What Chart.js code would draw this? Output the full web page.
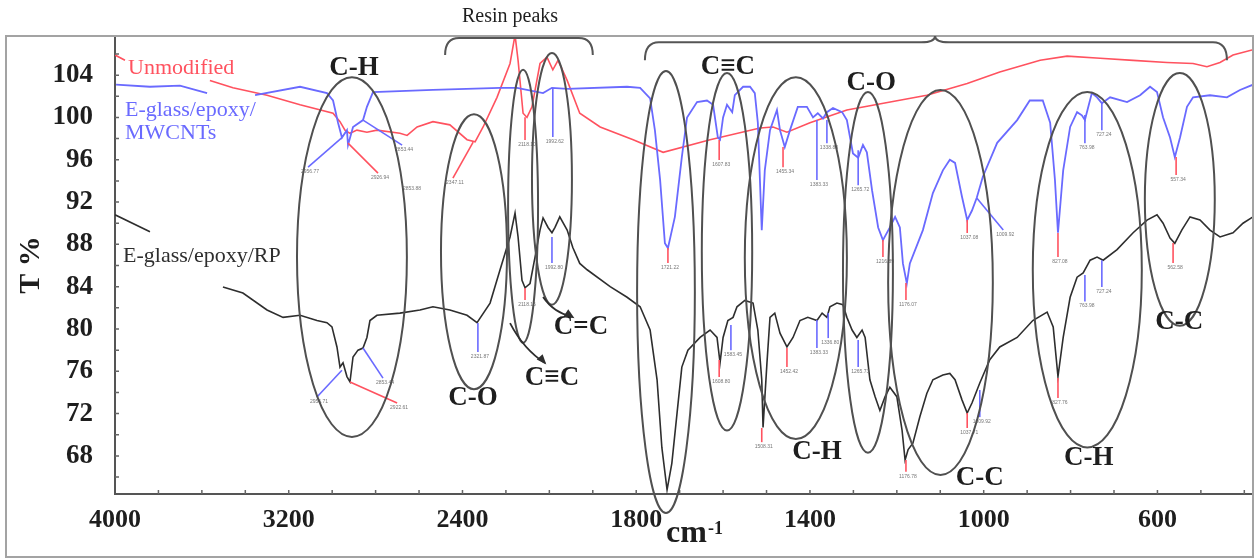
<!DOCTYPE html>
<html>
<head>
<meta charset="utf-8">
<script src="https://cdn.jsdelivr.net/npm/chart.js@4.4.1/dist/chart.umd.min.js"></script>
<style>
  html, body { margin: 0; padding: 0; background: #fff; }
  canvas { display: block; }
</style>
</head>
<body>
<canvas id="ftir" width="1254" height="560"></canvas>
<script>
// ---- spectra: wavenumber (cm-1) and transmittance (%) ----
// null marks the places where the original line is broken by its own label
const redWn = [4000, 3954, 3800, 3563, 3457, 3300, 3148, 2996, 2964, 2941, 2918, 2886, 2840, 2794, 2688,
  2655, 2609, 2536, 2458, 2379, 2342, 2305, 2241, 2181, 2158, 2144, 2121, 2103, 2080, 2043, 2011, 1992,
  1980, 1959, 1930, 1883, 1807, 1738, 1630, 1515, 1485, 1453, 1400, 1315, 1209, 1131, 1038, 963, 870,
  808, 732, 656, 578, 518, 486, 456, 426, 380];
const redT = [105.9, 105.4, null, 103.5, 102.8, 102.1, 101.2, 100.4, 99.6, 98.8, 98.5, 98.8, 98.6, 98.8, 98.5,
  98.3, 99.1, 99.6, 99.3, 97.9, 97.7, 99.1, 101.9, 105.1, 107.8, 105.4, 100.4, 100.0, 101.0, 105.1, 105.7, 104.5,
  105.4, 103.5, 100.4, 99.1, 97.9, 96.7, 97.9, 99.0, 99.1, 98.6, 99.5, 100.7, 101.5, 102.1, 103.2, 104.3, 105.4,
  105.8, 105.6, 105.4, 105.2, 105.1, 104.8, 105.2, 105.9, 106.4];

const blueWn = [3995, 3839, 3701, 3576, 3470, 3355, 3148, 3024, 2996, 2973, 2955, 2932, 2927, 2904, 2858,
  2840, 2812, 2536, 2227, 2149, 2029, 1994, 1959, 1821, 1791, 1768, 1757, 1745, 1734, 1727, 1711, 1695,
  1683, 1660, 1637, 1623, 1612, 1607, 1600, 1591, 1579, 1573, 1554, 1538, 1527, 1520, 1511, 1504, 1492,
  1476, 1469, 1458, 1446, 1428, 1407, 1393, 1382, 1370, 1361, 1347, 1326, 1315, 1301, 1289, 1278, 1269,
  1257, 1243, 1232, 1216, 1204, 1193, 1186, 1177, 1170, 1140, 1117, 1094, 1078, 1066, 1050, 1038, 1027,
  1016, 1002, 969, 923, 894, 864, 847, 836, 829, 817, 801, 785, 774, 767, 751, 739, 728, 709, 670, 640,
  617, 601, 587, 571, 560, 548, 532, 518, 479, 440, 410, 380];
const blueT = [103.1, 102.9, 103.0, 102.3, null, 102.1, 102.9, 102.3, 101.6, 99.5, 98.1, 98.8, 97.4, 99.1, 99.75,
  101.0, 102.4, 102.6, 102.8, 102.8, 102.3, 102.8, 102.7, 102.9, 102.8, 101.8, 98.8, 94.1, 88.1, 87.65, 90.6, 96.25,
  100.0, 101.45, 101.6, 101.2, 98.1, 97.9, 100.0, 101.2, 100.5, 102.1, 102.9, 102.9, 102.3, 99.5, 89.35, 95.0, 98.8,
  100.7, 98.8, 97.2, 98.8, 101.0, 101.0, 100.0, 100.4, 99.9, 100.5, 100.9, 100.5, 99.75, 96.6, 96.2, 97.4, 96.7,
  93.1, 89.6, 88.4, 89.6, 90.6, 89.6, 86.2, 84.3, 86.2, 89.35, 92.85, 95.0, 96.0, 95.7, 92.5, 90.3, 91.2,
  92.4, 94.4, 97.6, 99.75, 101.6, 101.6, 99.5, 94.1, 89.1, 95.0, 99.1, 100.5, 100.2, 99.75, 102.3, 101.9, 101.35, 101.9, 101.45, 102.1,
  102.9, 102.4, 100.0, 98.1, 96.25, 98.1, 101.0, 101.9, 102.1, 101.9, 102.6, 103.1];

const blackWn = [4000, 3839, 3700, 3503, 3411, 3300, 3226, 3148, 3070, 3024, 3001, 2978, 2964, 2950, 2932,
  2918, 2904, 2881, 2858, 2840, 2826, 2794, 2688, 2596, 2536, 2458, 2379, 2333, 2273, 2227, 2181, 2158,
  2144, 2126, 2112, 2089, 2066, 2043, 2029, 2006, 1994, 1987, 1976, 1959, 1946, 1930, 1913, 1860, 1821,
  1791, 1768, 1752, 1741, 1729, 1718, 1706, 1695, 1681, 1653, 1630, 1614, 1607, 1600, 1589, 1577, 1568,
  1550, 1531, 1520, 1511, 1508, 1499, 1492, 1481, 1469, 1453, 1439, 1423, 1405, 1384, 1372, 1361, 1354,
  1338, 1324, 1315, 1303, 1292, 1280, 1273, 1262, 1250, 1239, 1227, 1216, 1200, 1188, 1181, 1174, 1163,
  1147, 1131, 1117, 1094, 1078, 1066, 1050, 1038, 1027, 1009, 986, 963, 923, 887, 854, 840, 829, 817,
  801, 785, 771, 755, 739, 725, 693, 656, 624, 601, 587, 571, 560, 544, 525, 502, 479, 456, 426, 403, 380];
const blackT = [90.8, 89.2, null, 83.96, 83.4, 81.8, 81.1, 81.3, 80.8, 80.6, 80.2, 78.3, 76.4, 76.8, 75.5,
  75.0, 77.35, 78.0, 78.2, 79.2, 80.8, 81.3, 81.5, 81.8, 82.1, 81.8, 81.3, 80.6, 82.45, 85.6, 88.7, 90.96,
  88.7, 84.6, 83.9, 84.3, 86.8, 89.35, 90.5, 89.6, 89.1, 89.6, 90.6, 89.35, 87.7, 86.2, 85.6, 84.0, 83.0,
  82.1, 79.9, 75.2, 68.8, 64.8, 67.3, 72.05, 76.4, 78.0, 79.2, 79.9, 79.2, 76.8, 79.2, 80.8, 81.1, 82.1,
  82.7, 82.45, 79.9, 75.2, 70.7, 76.8, 81.1, 81.5, 79.6, 78.3, 79.2, 80.8, 81.1, 80.8, 81.5, 81.1, 82.1,
  82.45, 82.3, 81.1, 79.9, 79.2, 79.9, 79.2, 75.2, 73.6, 72.3, 73.6, 74.5, 73.6, 70.45, 67.6, 68.6, 69.2,
  71.7, 73.9, 75.2, 75.65, 75.8, 75.2, 73.3, 72.05, 73.0, 74.9, 77.1, 78.3, 79.2, 80.8, 81.6, 80.2, 75.5, 79.2,
  83.0, 84.9, 85.3, 86.5, 86.8, 86.5, 87.5, 89.1, 90.3, 90.8, 90.0, 88.6, 88.1, 89.35, 90.6, 90.3, 89.35, 88.7, 89.1, 90.0, 90.6];

const seriesNames = ['Unmodified', 'E-glass/epoxy/MWCNTs', 'E-glass/epoxy/RP'];

// axis ticks (the wavenumber axis is compressed two-to-one above 2000 cm-1)
const xTickValues = [4000, 3800, 3600, 3400, 3200, 3000, 2800, 2600, 2400, 2200, 2000, 1900, 1800, 1700,
  1600, 1500, 1400, 1300, 1200, 1100, 1000, 900, 800, 700, 600, 500, 400];
const xTickLabels = [4000, 3200, 2400, 1800, 1400, 1000, 600];
const yTickLabels = [68, 72, 76, 80, 84, 88, 92, 96, 100, 104];

// peak markers: [wn from, T from, wn to, T to, series colour, printed value]
const peakMarks = [
  [2955, 98.1, 3111, 95.3, 'blue', '2956.77'],
  [2927, 97.57, 2789, 94.74, 'red', '2926.94'],
  [2858, 99.75, 2678, 97.38, 'blue', '2853.44'],
  [2642, 93.7, 2642, 93.7, null, '2853.88'],
  [2351, 97.67, 2444, 94.27, 'red', '2347.11'],
  [2112, 100.03, 2112, 97.86, 'red', '2118.10'],
  [1992, 102.77, 1992, 98.14, 'blue', '1992.62'],
  [2955, 76.1, 3070, 73.57, 'blue', '2956.71'],
  [2918, 74.98, 2701, 73.0, 'red', '2922.61'],
  [2858, 78.2, 2766, 75.36, 'blue', '2853.44'],
  [2329, 80.56, 2329, 77.82, 'blue', '2321.87'],
  [2112, 83.87, 2112, 82.73, 'red', '2118.16'],
  [1994, 88.69, 1994, 86.23, 'blue', '1992.80'],
  [1727, 87.65, 1727, 86.23, 'red', '1721.22'],
  [1609, 97.86, 1609, 95.97, 'red', '1607.83'],
  [1462, 97.2, 1462, 95.3, 'red', '1455.34'],
  [1384, 99.75, 1384, 94.08, 'blue', '1383.33'],
  [1361, 99.75, 1361, 97.57, 'blue', '1338.88'],
  [1289, 96.91, 1289, 93.6, 'blue', '1265.72'],
  [1232, 88.41, 1232, 86.8, 'red', '1216.89'],
  [1179, 84.34, 1179, 82.73, 'red', '1176.07'],
  [1038, 90.3, 1038, 89.07, 'red', '1037.08'],
  [1016, 92.38, 955, 89.35, 'blue', '1009.92'],
  [829, 89.07, 829, 86.8, 'red', '827.08'],
  [767, 100.22, 767, 97.57, 'blue', '763.98'],
  [728, 101.45, 728, 98.8, 'blue', '727.24'],
  [557, 96.25, 557, 94.55, 'red', '557.34'],
  [1609, 77.06, 1609, 75.46, 'red', '1608.80'],
  [1582, 80.37, 1582, 78.0, 'blue', '1583.45'],
  [1511, 70.64, 1511, 69.3, 'red', '1508.31'],
  [1453, 78.2, 1453, 76.4, 'red', '1452.42'],
  [1384, 80.84, 1384, 78.2, 'blue', '1383.33'],
  [1358, 81.5, 1358, 79.14, 'blue', '1336.80'],
  [1289, 78.95, 1289, 76.4, 'blue', '1265.73'],
  [1179, 67.61, 1179, 66.5, 'red', '1176.78'],
  [1038, 72.05, 1038, 70.64, 'red', '1037.71'],
  [1009, 74.23, 1009, 71.67, 'blue', '1009.92'],
  [829, 75.36, 829, 73.47, 'red', '827.76'],
  [767, 85.1, 767, 82.6, 'blue', '763.98'],
  [728, 86.5, 728, 83.96, 'blue', '727.24'],
  [564, 88.12, 564, 86.23, 'red', '562.58']
];

// band ovals: [wn left, wn right, T top, T bottom]
const bandOvals = [
  [3162, 2656, 103.8, 69.8],
  [2499, 2195, 100.3, 74.3],
  [2190, 2052, 104.5, 78.7],
  [2080, 1948, 106.1, 82.3],
  [1798, 1665, 104.4, 62.6],
  [1649, 1533, 104.2, 70.4],
  [1550, 1315, 103.8, 69.6],
  [1324, 1209, 102.4, 68.3],
  [1220, 979, 102.6, 66.2],
  [887, 636, 102.4, 68.8],
  [629, 468, 104.2, 80.3]
];

// band names with their place in data units
const bandNames = ['C-H', 'C\u2261C', 'C-O', 'C-O', 'C\u2261C', 'C=C', 'C-H', 'C-C', 'C-H', 'C-C'];
const bandNameAt = [[2900, 104.66], [1589, 104.76], [1259, 103.25], [2352, 73.47], [1994, 75.36],
  [1927, 80.18], [1384, 68.37], [1009, 65.9], [758, 67.8], [550, 80.65]];

// arrows from the resin ovals to their names: [wn from, T from, wn to, T to]
const bandArrows = [[2181, 80.56, 2020, 76.78], [2029, 83.02, 1946, 81.13]];

// braces over the top: [wn left, wn right, wn tip, T ends, T flat, T tip]
const braces = [[2480, 1900, 2158, 105.9, 107.5, 107.5], [1780, 440, 1112, 105.4, 107.1, 107.7]];
const braceTitle = ['Resin peaks', 2181, 109.5];

// series names written inside the plot
const seriesTags = [['Unmodified', 3940, 104.66, 0], ['E-glass/epoxy/', 3954, 100.69, 1],
  ['MWCNTs', 3954, 98.52, 1], ['E-glass/epoxy/RP', 3963, 86.9, 2]];

const COLORS = { red: 'rgb(255,82,95)', blue: 'rgb(106,106,255)', black: '#2e2e2e', oval: '#505050', text: '#1e1e1e' };
const seriesColors = [COLORS.red, COLORS.blue, COLORS.black];
const SERIF = '"Liberation Serif", "Times New Roman", serif';

// ---- wavenumber scale with the usual break at 2000 cm-1 ----
const X_HIGH = 4000, X_BREAK = 2000, X_LOW = 380;
const LinearScale = Chart.LinearScale || Chart.registry.getScale('linear');

class FtirScale extends LinearScale {
  buildTicks() {
    return xTickValues.map(value => ({ value }));
  }
  units(v) {
    return v >= X_BREAK ? (X_HIGH - v) / 2 : (X_HIGH - X_BREAK) / 2 + (X_BREAK - v);
  }
  getPixelForValue(v) {
    if (v === null || v === undefined) return NaN;
    return this.left + this.width * this.units(v) / this.units(X_LOW);
  }
  getValueForPixel(p) {
    const u = (p - this.left) / this.width * this.units(X_LOW);
    const half = (X_HIGH - X_BREAK) / 2;
    return u <= half ? X_HIGH - 2 * u : X_BREAK - (u - half);
  }
}
FtirScale.id = 'ftir';
FtirScale.defaults = {};
Chart.register(FtirScale);

const toPoints = (wn, t) => wn.map((w, i) => ({ x: w, y: t[i] }));

// draws the frame, ovals, braces, peak markers and the hand-set labels
const annotations = {
  id: 'annotations',
  afterDraw(chart) {
    const { ctx, chartArea: area, scales: { x, y } } = chart;
    const px = v => x.getPixelForValue(v);
    const py = v => y.getPixelForValue(v);
    ctx.save();

    // outer frame
    ctx.strokeStyle = '#a3a3a3';
    ctx.lineWidth = 2;
    ctx.strokeRect(6, area.top, area.right - 6, chart.height - 3 - area.top);

    // inner tick marks
    ctx.strokeStyle = '#666';
    ctx.lineWidth = 1.5;
    ctx.beginPath();
    x.ticks.forEach(t => {
      const p = px(t.value);
      if (p > area.left + 2 && p < area.right - 2) { ctx.moveTo(p, area.bottom); ctx.lineTo(p, area.bottom - 4); }
    });
    y.ticks.forEach(t => {
      const p = py(t.value);
      ctx.moveTo(area.left, p); ctx.lineTo(area.left + 4, p);
    });
    ctx.stroke();

    // braces
    ctx.strokeStyle = '#555';
    ctx.lineWidth = 2;
    braces.forEach(([w1, w2, wt, tEnd, tFlat, tTip]) => {
      const x1 = px(w1), x2 = px(w2), xm = px(wt);
      const ye = py(tEnd), yf = py(tFlat), yt = py(tTip);
      const r = 14;
      ctx.beginPath();
      ctx.moveTo(x1, ye);
      ctx.quadraticCurveTo(x1, yf, x1 + r, yf);
      ctx.lineTo(xm - r, yf);
      ctx.quadraticCurveTo(xm, yf, xm, yt);
      ctx.quadraticCurveTo(xm, yf, xm + r, yf);
      ctx.lineTo(x2 - r, yf);
      ctx.quadraticCurveTo(x2, yf, x2, ye);
      ctx.stroke();
    });
    ctx.fillStyle = COLORS.text;
    ctx.font = '20px ' + SERIF;
    ctx.textAlign = 'center';
    ctx.textBaseline = 'middle';
    ctx.fillText(braceTitle[0], px(braceTitle[1]), py(braceTitle[2]));

    // peak markers
    ctx.lineWidth = 1.6;
    ctx.font = '5px "Liberation Sans", Arial, sans-serif';
    ctx.textAlign = 'center';
    ctx.textBaseline = 'top';
    peakMarks.forEach(([w1, t1, w2, t2, col, label]) => {
      const x1 = px(w1), y1 = py(t1), x2 = px(w2), y2 = py(t2);
      if (col) {
        ctx.strokeStyle = COLORS[col];
        ctx.beginPath();
        ctx.moveTo(x1, y1);
        ctx.lineTo(x2, y2);
        ctx.stroke();
      }
      ctx.fillStyle = '#777';
      ctx.fillText(label, x2 + 2, y2 + 2);
    });

    // band ovals
    ctx.strokeStyle = COLORS.oval;
    ctx.lineWidth = 2;
    bandOvals.forEach(([w1, w2, tTop, tBot]) => {
      const x1 = px(w1), x2 = px(w2), y1 = py(tTop), y2 = py(tBot);
      ctx.beginPath();
      ctx.ellipse((x1 + x2) / 2, (y1 + y2) / 2, Math.abs(x2 - x1) / 2, Math.abs(y2 - y1) / 2, 0, 0, Math.PI * 2);
      ctx.stroke();
    });

    // arrows
    ctx.strokeStyle = COLORS.black;
    ctx.fillStyle = COLORS.black;
    ctx.lineWidth = 1.8;
    bandArrows.forEach(([w1, t1, w2, t2]) => {
      const x1 = px(w1), y1 = py(t1), x2 = px(w2), y2 = py(t2);
      const a = Math.atan2(y2 - y1, x2 - x1);
      ctx.beginPath();
      ctx.moveTo(x1, y1);
      ctx.quadraticCurveTo((x1 + x2) / 2 - 4, (y1 + y2) / 2 + 6, x2, y2);
      ctx.stroke();
      ctx.beginPath();
      ctx.moveTo(x2 + 2 * Math.cos(a), y2 + 2 * Math.sin(a));
      ctx.lineTo(x2 - 9 * Math.cos(a - 0.45), y2 - 9 * Math.sin(a - 0.45));
      ctx.lineTo(x2 - 9 * Math.cos(a + 0.45), y2 - 9 * Math.sin(a + 0.45));
      ctx.closePath();
      ctx.fill();
    });

    // band names
    ctx.fillStyle = COLORS.text;
    ctx.font = 'bold 27px ' + SERIF;
    ctx.textAlign = 'center';
    ctx.textBaseline = 'middle';
    bandNames.forEach((name, i) => ctx.fillText(name, px(bandNameAt[i][0]), py(bandNameAt[i][1])));

    // series names
    ctx.font = '22px ' + SERIF;
    ctx.textAlign = 'left';
    seriesTags.forEach(([text, w, t, s]) => {
      ctx.fillStyle = seriesColors[s];
      ctx.fillText(text, px(w), py(t));
    });

    // x axis title, cm-1
    const cx = (area.left + area.right) / 2 + 10;
    ctx.fillStyle = COLORS.text;
    ctx.textBaseline = 'alphabetic';
    ctx.font = 'bold 32px ' + SERIF;
    const wcm = ctx.measureText('cm').width;
    ctx.font = 'bold 18px ' + SERIF;
    const wsup = ctx.measureText('-1').width;
    const left = cx - (wcm + wsup) / 2;
    ctx.font = 'bold 32px ' + SERIF;
    ctx.fillText('cm', left, area.bottom + 48);
    ctx.font = 'bold 18px ' + SERIF;
    ctx.fillText('-1', left + wcm + 1, area.bottom + 40);

    ctx.restore();
  }
};

new Chart(document.getElementById('ftir'), {
  type: 'line',
  data: {
    datasets: [
      { label: seriesNames[2], data: toPoints(blackWn, blackT), borderColor: COLORS.black, borderWidth: 1.6 },
      { label: seriesNames[1], data: toPoints(blueWn, blueT), borderColor: COLORS.blue, borderWidth: 1.8 },
      { label: seriesNames[0], data: toPoints(redWn, redT), borderColor: COLORS.red, borderWidth: 1.6 }
    ]
  },
  options: {
    responsive: false,
    animation: false,
    devicePixelRatio: 1,
    spanGaps: false,
    layout: { padding: { top: 36, right: 1, left: 0, bottom: 0 } },
    elements: { point: { radius: 0 }, line: { tension: 0 } },
    plugins: { legend: { display: false }, tooltip: { enabled: false } },
    scales: {
      x: {
        type: 'ftir',
        min: X_LOW,
        max: X_HIGH,
        grid: { display: false },
        border: { color: '#555', width: 2 },
        ticks: {
          autoSkip: false,
          maxRotation: 0,
          padding: 3,
          color: COLORS.text,
          font: { family: SERIF, size: 26, weight: 'bold' },
          callback: v => (xTickLabels.includes(v) ? String(v) : '')
        },
        afterFit: s => { s.height = 66; }
      },
      y: {
        min: 64.4,
        max: 107.7,
        grid: { display: false },
        border: { color: '#555', width: 2 },
        ticks: {
          stepSize: 2,
          includeBounds: false,
          autoSkip: false,
          padding: 14,
          color: COLORS.text,
          font: { family: SERIF, size: 27, weight: 'bold' },
          callback: v => (yTickLabels.includes(Math.round(v)) ? String(Math.round(v)) : '')
        },
        title: {
          display: true,
          text: 'T %',
          color: COLORS.text,
          font: { family: SERIF, size: 30, weight: 'bold' },
          padding: { top: 13, bottom: 0 }
        },
        afterFit: s => { s.width = 115; }
      }
    }
  },
  plugins: [annotations]
});
</script>
</body>
</html>
